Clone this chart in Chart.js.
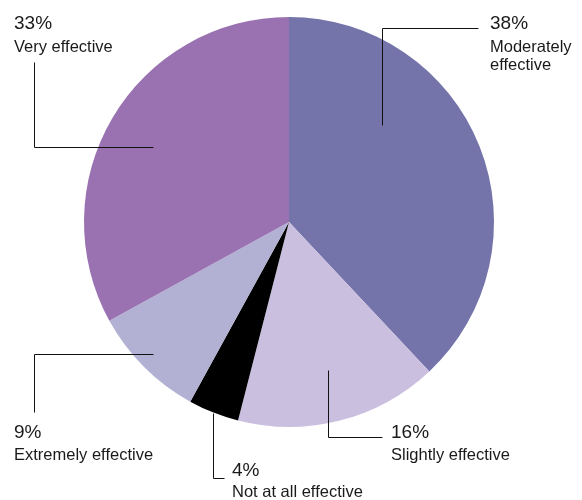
<!DOCTYPE html>
<html>
<head>
<meta charset="utf-8">
<script src="https://cdn.jsdelivr.net/npm/chart.js@4/dist/chart.umd.min.js"></script>
<style>
  html, body { margin: 0; padding: 0; background: #ffffff; }
  #wrap { width: 582px; height: 500px; position: relative; }
</style>
</head>
<body>
<div id="wrap"><canvas id="c" width="582" height="500"></canvas></div>
<script>
const categories = ["Moderately effective", "Slightly effective", "Not at all effective", "Extremely effective", "Very effective"];
const values = [38, 16, 4, 9, 33];
const percentLabels = ["38%", "16%", "4%", "9%", "33%"];
const labelLines = [["Moderately", "effective"], ["Slightly effective"], ["Not at all effective"], ["Extremely effective"], ["Very effective"]];
const colors = ["#7474aa", "#cbbfe0", "#000000", "#b2b1d3", "#9a72b1"];

// Annotation layout: text baseline anchor and leader polyline per slice
const annot = [
  { tx: 490, ty: 29,  gap: 23, line: [[478, 28], [382, 28], [382, 125]] },
  { tx: 391, ty: 438, gap: 22, line: [[382, 437], [328, 437], [328, 370]] },
  { tx: 232, ty: 476, gap: 21, line: [[224, 478], [213, 478], [213, 413]] },
  { tx: 14,  ty: 438, gap: 22, line: [[34, 412], [34, 354], [153, 354]] },
  { tx: 14,  ty: 29,  gap: 23, line: [[34, 62], [34, 147], [153, 147]] }
];

const labelPlugin = {
  id: 'labelPlugin',
  afterDatasetsDraw(chart) {
    const ctx = chart.ctx;
    ctx.save();
    annot.forEach((a, i) => {
      ctx.strokeStyle = '#111';
      ctx.lineWidth = 1;
      ctx.beginPath();
      a.line.forEach((p, j) => {
        const x = p[0] + 0.5, y = p[1] + 0.5;
        if (j === 0) ctx.moveTo(x, y); else ctx.lineTo(x, y);
      });
      ctx.stroke();
      ctx.fillStyle = '#1a1a1a';
      ctx.textBaseline = 'alphabetic';
      ctx.textAlign = 'left';
      ctx.font = '19px "Liberation Sans", Arial, sans-serif';
      ctx.fillText(percentLabels[i], a.tx, a.ty);
      ctx.font = '16.5px "Liberation Sans", Arial, sans-serif';
      labelLines[i].forEach((t, k) => ctx.fillText(t, a.tx, a.ty + a.gap + k * 18));
    });
    ctx.restore();
  }
};

new Chart(document.getElementById('c'), {
  type: 'pie',
  data: {
    labels: categories,
    datasets: [{ data: values, backgroundColor: colors, borderWidth: 0 }]
  },
  options: {
    responsive: false,
    animation: false,
    layout: { padding: { top: 17, bottom: 73, left: 84, right: 88 } },
    plugins: { legend: { display: false }, tooltip: { enabled: false } }
  },
  plugins: [labelPlugin]
});
</script>
</body>
</html>
